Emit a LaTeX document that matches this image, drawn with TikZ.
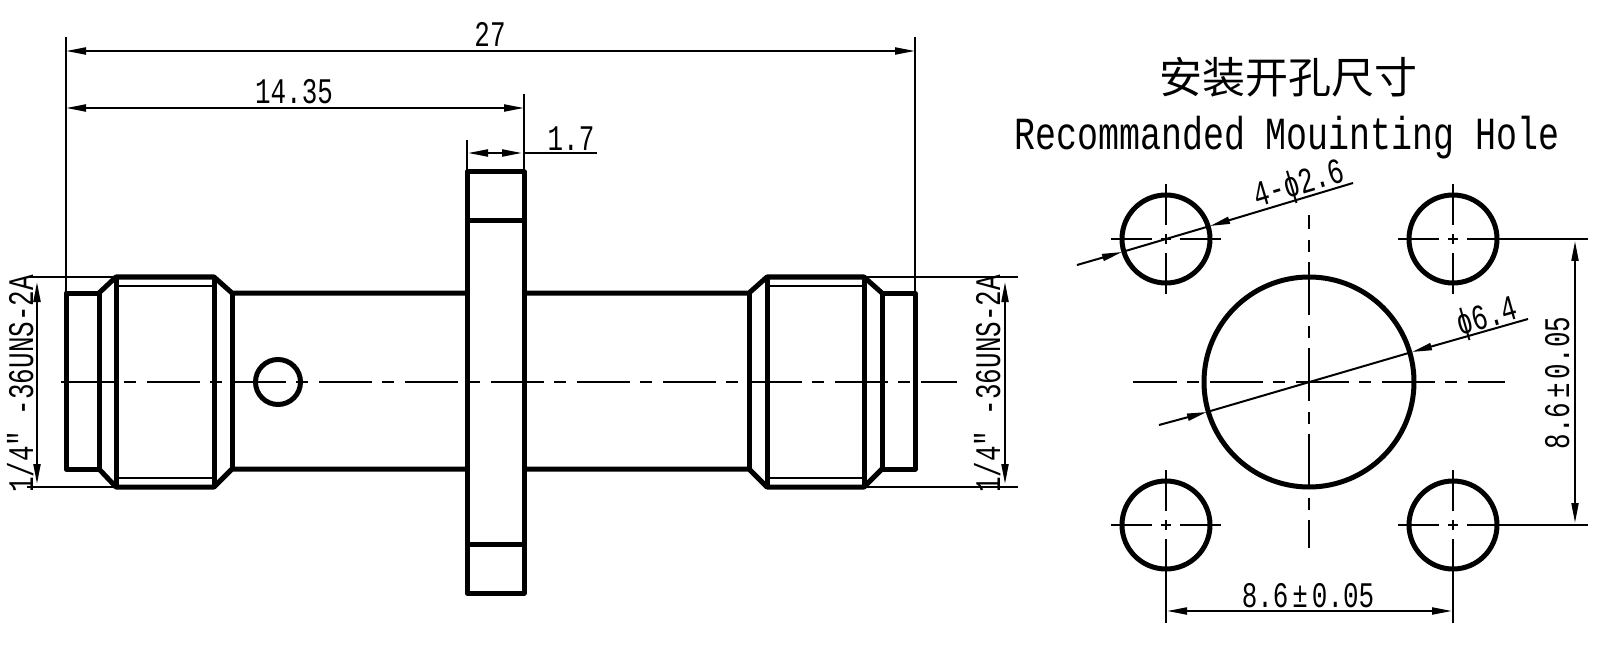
\documentclass[tikz,border=0pt]{standalone}
\usepackage{fontspec}
\usetikzlibrary{arrows.meta}
\newfontfamily\dimfont[FakeStretch=0.72]{Liberation Mono}
\newfontfamily\headfont[FakeStretch=0.76]{Liberation Mono}
\newfontfamily\cjkfont{Noto Sans CJK SC}
\tikzset{
  partline/.style={line width=5pt, line join=round},
  threadline/.style={line width=2pt},
  dimline/.style={line width=2pt},
  axisline/.style={line width=2pt, dash pattern=on 53pt off 10pt on 12pt off 11pt},
  holeaxis/.style={line width=2pt, dash pattern=on 41pt off 9pt on 10pt off 9pt},
  dimtext/.style={inner sep=0pt, font=\dimfont\fontsize{36}{36}\selectfont},
}
\begin{document}
\begin{tikzpicture}[x=1pt, y=-1pt, >={Triangle[length=20pt,width=7pt]}]
    \useasboundingbox (0,0) rectangle (1600,652);
    % connector body
    \draw[partline] (66,293) rectangle (99,469);
    \draw[partline] (99,293) -- (116,277) -- (214,277) -- (232,293) -- (467,293);
    \draw[partline] (99,469) -- (116,487) -- (214,487) -- (232,469) -- (467,469);
    \draw[partline] (915,293) rectangle (882,469);
    \draw[partline] (882,293) -- (864,277) -- (767,277) -- (749,293) -- (524,293);
    \draw[partline] (882,469) -- (864,487) -- (767,487) -- (749,469) -- (524,469);
    \foreach \xa in {99,232,749,882}
        \draw[partline] (\xa,293) -- (\xa,469);
    \foreach \xa in {116,214,767,864}
        \draw[partline] (\xa,277) -- (\xa,487);
    \draw[threadline] (116,286) -- (214,286) (116,478) -- (214,478);
    \draw[threadline] (767,286) -- (864,286) (767,478) -- (864,478);
    \draw[partline] (467,172) rectangle (524,593);
    \draw[partline] (467,221) -- (524,221) (467,544) -- (524,544);
    \draw[partline] (278,382) circle (22.5);
    \draw[axisline, dash phase=81] (56,382) -- (957,382);
    % dimensions on top
    \draw[dimline] (66,37) -- (66,293) (915,37) -- (915,293);
    \draw[dimline, <->] (66,51) -- (915,51);
    \node[dimtext, anchor=base] (lenall) at (490,47) {27};
    \draw[dimline] (524,94) -- (524,172) (467,140) -- (467,172);
    \draw[dimline, <->] (66,108) -- (524,108);
    \node[dimtext, anchor=base] (lenhalf) at (294,104) {14.35};
    \draw[dimline, <->] (468,153) -- (522,153);
    \draw[dimline] (524,153) -- (597,153);
    \node[dimtext, anchor=base] (lenflange) at (571,151) {1.7};
    % thread callouts
    \draw[dimline] (27,277) -- (116,277) (27,487) -- (116,487);
    \draw[dimline, <->] (37,282) -- (37,484);
    \node[dimtext, anchor=base, rotate=90] (threadl) at (33,384) {1/4″ -36UNS-2A};
    \draw[dimline] (864,277) -- (1018,277) (864,487) -- (1018,487);
    \draw[dimline, <->] (1005,282) -- (1005,484);
    \node[dimtext, anchor=base, rotate=90] (threadr) at (1000,384) {1/4″ -36UNS-2A};
    % mounting holes
    \node[inner sep=0pt, font=\cjkfont\fontsize{43}{43}\selectfont] (titlecn) at (1288,77) {安装开孔尺寸};
    \node[inner sep=0pt, anchor=base, font=\headfont\fontsize{46}{46}\selectfont] (titleen) at (1287,150) {Recommanded Mouinting Hole};
    \draw[partline] (1309,382) circle (105);
    \foreach \xa in {1166,1453}
        \foreach \ya in {239,525} {
            \draw[partline] (\xa,\ya) circle (44);
            \draw[holeaxis] (\xa-55,\ya) -- (\xa+55,\ya);
            \draw[holeaxis] (\xa,\ya-55) -- (\xa,\ya+55);
        }
    \draw[axisline, dash phase=9] (1133,382) -- (1505,382);
    \draw[axisline, dash phase=25] (1309,548) -- (1309,215);
    \draw[dimline] (1497,239) -- (1588,239) (1497,525) -- (1588,525);
    \draw[dimline, <->] (1575,241) -- (1575,523);
    \node[dimtext, anchor=base, rotate=90] (pitchy) at (1569,383) {8.6\kern4pt±\kern4pt0.05};
    \draw[dimline] (1166,569) -- (1166,623) (1453,569) -- (1453,623);
    \draw[dimline, <->] (1167,611) -- (1452,611);
    \node[dimtext, anchor=base] (pitchx) at (1308,607) {8.6\kern4pt±\kern4pt0.05};
    % leaders
    \draw[dimline, ->] (1077,265) -- (1122,252);
    \draw[dimline, ->] (1353,183) -- (1210,226);
    \draw[dimline] (1122,252) -- (1210,226);
    \node[dimtext, anchor=base, rotate=16.5] (holesmall) at (1302,194) {4-ϕ2.6};
    \draw[dimline, ->] (1159,425) -- (1207,412);
    \draw[dimline, ->] (1528,319) -- (1412,352);
    \draw[dimline] (1207,412) -- (1412,352);
    \node[dimtext, anchor=base, rotate=16] (holelarge) at (1490,327) {ϕ6.4};
\end{tikzpicture}
\end{document}
